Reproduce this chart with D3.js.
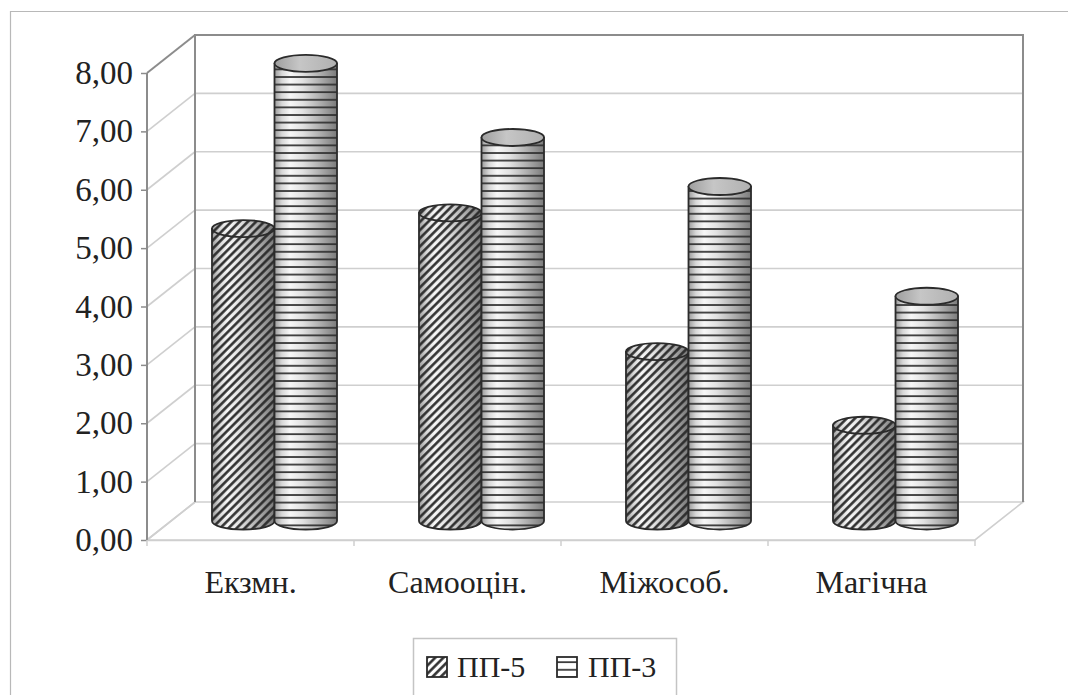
<!DOCTYPE html>
<html>
<head>
<meta charset="utf-8">
<script src="https://cdn.jsdelivr.net/npm/d3@7"></script>
<style>
  html, body { margin: 0; padding: 0; background: #fff; }
  svg { display: block; }
  text { font-family: "Liberation Serif", "Times New Roman", serif; fill: #222; }
</style>
</head>
<body>
<svg id="chart" width="1068" height="695"></svg>
<script>
// Chart data
const categories = ["Екзмн.", "Самооцін.", "Міжособ.", "Магічна"];
const seriesNames = ["ПП-5", "ПП-3"];
const pp5Values = [5.01, 5.28, 2.90, 1.64];
const pp3Values = [7.84, 6.57, 5.73, 3.85];
const yTickValues = [0, 1, 2, 3, 4, 5, 6, 7, 8];

const seriesValues = [pp5Values, pp3Values];

const svg = d3.select("#chart");

// Plot geometry (front plane) and depth offset of the 3D box
const front = { left: 147, right: 975, top: 73, bottom: 540 };
const depth = { dx: 48, dy: -38 };

const y = d3.scaleLinear().domain([0, 8]).range([front.bottom, front.top]);
const x = d3.scaleBand().domain(categories).range([front.left, front.right])
  .paddingInner(0.396).paddingOuter(0.198);
const xs = d3.scaleBand().domain(seriesNames).range([0, x.bandwidth()]).padding(0);

const fmt = v => d3.format(".2f")(v).replace(".", ",");

// ---------- defs: gradients and fill patterns ----------
const defs = svg.append("defs");

const bodyGrad = defs.append("linearGradient").attr("id", "bodyGrad")
  .attr("x1", 0).attr("x2", 1).attr("y1", 0).attr("y2", 0);
[[0, "#9a9a9a"], [0.12, "#d8d8d8"], [0.25, "#f7f7f7"], [0.45, "#e2e2e2"],
 [0.7, "#b4b4b4"], [0.9, "#8e8e8e"], [1, "#7a7a7a"]]
  .forEach(([o, c]) => bodyGrad.append("stop").attr("offset", o).attr("stop-color", c));

const capGrad = defs.append("linearGradient").attr("id", "capGrad")
  .attr("x1", 0).attr("x2", 1).attr("y1", 0).attr("y2", 0);
[[0, "#9e9e9e"], [0.4, "#c6c6c6"], [1, "#b0b0b0"]]
  .forEach(([o, c]) => capGrad.append("stop").attr("offset", o).attr("stop-color", c));

// diagonal hatch for ПП-5
const hatch = defs.append("pattern").attr("id", "hatch")
  .attr("patternUnits", "userSpaceOnUse").attr("width", 5.8).attr("height", 5.8)
  .attr("patternTransform", "rotate(45)");
hatch.append("line").attr("x1", 1.4).attr("x2", 1.4).attr("y1", 0).attr("y2", 5.8)
  .attr("stroke", "#2a2a2a").attr("stroke-width", 2.5);

// horizontal stripes for ПП-3
const stripes = defs.append("pattern").attr("id", "stripes")
  .attr("patternUnits", "userSpaceOnUse").attr("width", 10).attr("height", 7.6);
stripes.append("line").attr("x1", 0).attr("x2", 10).attr("y1", 1).attr("y2", 1)
  .attr("stroke", "#2e2e2e").attr("stroke-width", 1.7);

const patternFor = { "ПП-5": "url(#hatch)", "ПП-3": "url(#stripes)" };

// ---------- outer frame ----------
svg.append("path").attr("d", "M1068,11.5 L10.5,11.5 L10.5,695")
  .attr("fill", "none").attr("stroke", "#b8b8b8").attr("stroke-width", 1.2);

// ---------- 3D box: walls, floor, gridlines ----------
const g = svg.append("g");
const bx = v => v + depth.dx;       // back x
const by = v => v + depth.dy;       // back y
const wallStroke = "#8c8c8c";
const gridStroke = "#cfcfcf";

// back wall gridlines
g.selectAll("line.gridBack").data(yTickValues.slice(1, -1)).join("line")
  .attr("x1", bx(front.left)).attr("x2", bx(front.right))
  .attr("y1", d => by(y(d))).attr("y2", d => by(y(d)))
  .attr("stroke", gridStroke).attr("stroke-width", 1.6);

// side wall gridlines (diagonal)
g.selectAll("line.gridSide").data(yTickValues).join("line")
  .attr("x1", front.left).attr("x2", bx(front.left))
  .attr("y1", d => y(d)).attr("y2", d => by(y(d)))
  .attr("stroke", d => (d === 8 ? wallStroke : gridStroke))
  .attr("stroke-width", d => (d === 8 ? 2 : 1.6));

// floor
g.append("path")
  .attr("d", `M${front.left},${y(0)} L${bx(front.left)},${by(y(0))} L${bx(front.right)},${by(y(0))} L${front.right},${y(0)} Z`)
  .attr("fill", "none").attr("stroke", gridStroke).attr("stroke-width", 1.6);

// back wall frame
g.append("path")
  .attr("d", `M${bx(front.left)},${by(y(0))} L${bx(front.left)},${by(y(8))} L${bx(front.right)},${by(y(8))} L${bx(front.right)},${by(y(0))}`)
  .attr("fill", "none").attr("stroke", wallStroke).attr("stroke-width", 2);

// front value axis
g.append("line").attr("x1", front.left).attr("x2", front.left)
  .attr("y1", y(8)).attr("y2", y(0)).attr("stroke", wallStroke).attr("stroke-width", 2);

// value axis ticks and labels
const yAxis = d3.axisLeft(y).tickValues(yTickValues).tickFormat(fmt).tickSize(6).tickPadding(8);
const yAx = svg.append("g").attr("transform", `translate(${front.left},0)`).call(yAxis);
yAx.select(".domain").remove();
yAx.selectAll(".tick line").attr("stroke", wallStroke).attr("stroke-width", 1.5);
yAx.selectAll(".tick text").attr("font-size", 33).attr("fill", "#222")
  .style("font-family", '"Liberation Serif", "Times New Roman", serif');

// category axis ticks and labels
const xAxis = d3.axisBottom(x).tickSize(0).tickPadding(30);
const xAx = svg.append("g").attr("transform", `translate(0,${y(0)})`).call(xAxis);
xAx.select(".domain").attr("stroke", gridStroke).attr("stroke-width", 1.6);
xAx.selectAll(".tick text").attr("font-size", 32).attr("fill", "#222")
  .style("font-family", '"Liberation Serif", "Times New Roman", serif');
const step = x.step();
svg.selectAll("line.catTick").data(d3.range(categories.length + 1)).join("line")
  .attr("x1", i => front.left + i * step).attr("x2", i => front.left + i * step)
  .attr("y1", y(0)).attr("y2", y(0) + 6)
  .attr("stroke", gridStroke).attr("stroke-width", 1.5);

// ---------- cylinders ----------
const ry = 8.5;
const midDx = depth.dx / 2, midDy = depth.dy / 2;
const bars = [];
categories.forEach((c, ci) => {
  seriesNames.forEach((s, si) => {
    bars.push({ cat: c, series: s, value: seriesValues[si][ci] });
  });
});

const cyl = svg.append("g").selectAll("g.cyl").data(bars).join("g").attr("class", "cyl");

cyl.each(function (d) {
  const gg = d3.select(this);
  const rx = xs.bandwidth() / 2;
  const cx = x(d.cat) + xs(d.series) + rx + midDx;
  const yBot = y(0) + midDy;
  const yTop = y(d.value) + midDy;
  const body = `M${cx - rx},${yTop} L${cx - rx},${yBot} A${rx},${ry} 0 0 0 ${cx + rx},${yBot} L${cx + rx},${yTop} Z`;
  gg.append("path").attr("d", body).attr("fill", "url(#bodyGrad)");
  gg.append("path").attr("d", body).attr("fill", patternFor[d.series]);
  gg.append("path").attr("d", body).attr("fill", "none")
    .attr("stroke", "#2b2b2b").attr("stroke-width", 1.8).attr("stroke-linejoin", "round");
  // top cap
  gg.append("ellipse").attr("cx", cx).attr("cy", yTop).attr("rx", rx).attr("ry", ry)
    .attr("fill", d.series === "ПП-5" ? "url(#bodyGrad)" : "url(#capGrad)");
  if (d.series === "ПП-5") {
    gg.append("ellipse").attr("cx", cx).attr("cy", yTop).attr("rx", rx).attr("ry", ry)
      .attr("fill", "url(#hatch)");
  }
  gg.append("ellipse").attr("cx", cx).attr("cy", yTop).attr("rx", rx).attr("ry", ry)
    .attr("fill", "none").attr("stroke", "#2b2b2b").attr("stroke-width", 1.8);
});

// ---------- legend ----------
const legend = svg.append("g");
legend.append("rect").attr("x", 413.5).attr("y", 638.5).attr("width", 263).attr("height", 60)
  .attr("fill", "#fff").attr("stroke", "#c4c4c4").attr("stroke-width", 1.5);
const legendItems = [
  { name: seriesNames[0], sx: 427, tx: 457 },
  { name: seriesNames[1], sx: 557, tx: 588 }
];
legendItems.forEach(it => {
  legend.append("rect").attr("x", it.sx).attr("y", 657).attr("width", 20).attr("height", 20)
    .attr("fill", "#fff");
  legend.append("rect").attr("x", it.sx).attr("y", 657).attr("width", 20).attr("height", 20)
    .attr("fill", patternFor[it.name]);
  legend.append("rect").attr("x", it.sx).attr("y", 657).attr("width", 20).attr("height", 20)
    .attr("fill", "none").attr("stroke", "#2b2b2b").attr("stroke-width", 1.8);
  legend.append("text").attr("x", it.tx).attr("y", 677).attr("font-size", 30)
    .style("font-family", '"Liberation Serif", "Times New Roman", serif')
    .text(it.name);
});
</script>
</body>
</html>
